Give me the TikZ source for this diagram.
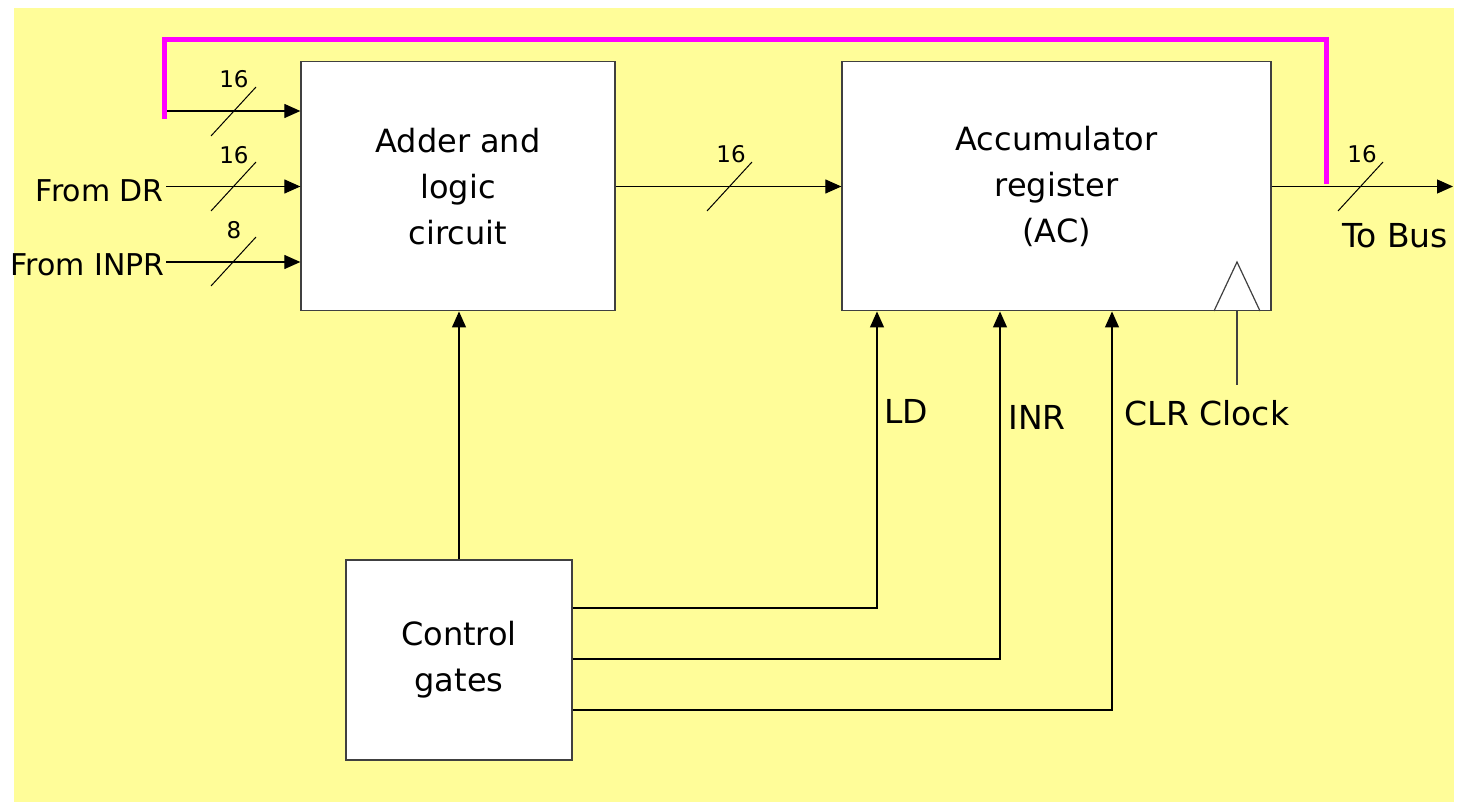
\documentclass[tikz,border=0pt]{standalone}
\usepackage{fontspec}
\setmainfont{DejaVu Sans}
\usetikzlibrary{arrows.meta}
\definecolor{padyellow}{RGB}{255,253,153}
\definecolor{boxedge}{RGB}{64,64,64}
\definecolor{busline}{RGB}{255,0,255}
\tikzset{
  blockbox/.style={draw=boxedge, line width=1.3pt, fill=white, inner sep=0pt,
    align=center, font=\fontsize{32}{46}\selectfont},
  wire/.style={draw=black, line width=1.2pt},
  wirearrow/.style={wire, -{Triangle[length=16pt,width=14pt]}},
  widthmark/.style={draw=black, line width=1pt},
  widthlabel/.style={font=\fontsize{23}{26}\selectfont, inner sep=0pt},
  siglabel/.style={font=\fontsize{33}{36}\selectfont, inner sep=0pt},
  srclabel/.style={font=\fontsize{30}{34}\selectfont, inner sep=0pt},
  feedback/.style={draw=busline, line width=5pt, line join=miter}
}
\begin{document}
\begin{tikzpicture}[x=1pt,y=-1pt]
\useasboundingbox (0,0) rectangle (1460,802);
\fill[padyellow] (14,8) rectangle (1454,802);

% functional blocks
\node[blockbox, minimum width=314pt, minimum height=249pt] (adder) at (458,186.3)
  {Adder and\\logic\\circuit};
\node[blockbox, minimum width=429pt, minimum height=249pt] (ac) at (1056.5,186.3)
  {Accumulator\\register\\(AC)};
\node[blockbox, minimum width=226pt, minimum height=200pt] (ctl) at (459,660)
  {Control\\gates};

% clock edge marker of the register
\coordinate (clkL) at (1214,311);
\coordinate (clkR) at (1260,311);
\coordinate (clkT) at (1237,262);
\draw[boxedge, line width=1.2pt] (clkL) -- (clkT) -- (clkR);

% inputs to the adder
\coordinate (in1) at (166,111);
\coordinate (in2) at (166,186.5);
\coordinate (in3) at (166,262);
\draw[wirearrow] (in1) -- (in1 -| adder.west);
\draw[wirearrow] (in2) -- (in2 -| adder.west);
\draw[wirearrow] (in3) -- (in3 -| adder.west);
\node[srclabel, anchor=east] (fromdr) at (164,191) {From DR};
\node[srclabel, anchor=east] (frominpr) at (165,265) {From INPR};

% adder to accumulator, accumulator to bus
\draw[wirearrow] (adder.east |- in2) -- (ac.west |- in2);
\coordinate (busend) at (1453,186.5);
\draw[wirearrow] (ac.east |- busend) -- (busend);
\node[siglabel] (tobus) at (1395,236) {To Bus};

% feedback path from the register output back to the adder
\coordinate (fbStart) at (164.5,119);
\coordinate (fbTop) at (1326,40);
\coordinate (fbEnd) at (1326,184);
\draw[feedback] (fbStart) -- (fbStart |- fbTop) -- (fbTop) -- (fbEnd);

% bus width marks
\draw[widthmark] (211,136) -- ++(45,-49);
\draw[widthmark] (211,211) -- ++(45,-49);
\draw[widthmark] (211,286) -- ++(45,-49);
\draw[widthmark] (707,211) -- ++(45,-49);
\draw[widthmark] (1338,211) -- ++(45,-49);
\node[widthlabel] (w1) at (234,79) {16};
\node[widthlabel] (w2) at (234,155) {16};
\node[widthlabel] (w3) at (234,230) {8};
\node[widthlabel] (w4) at (731,154) {16};
\node[widthlabel] (w5) at (1362,154) {16};

% control signals
\draw[wirearrow] (ctl.north) -- (ctl.north |- adder.south);
\coordinate (ldT) at (877,608);
\coordinate (inrT) at (1000,659);
\coordinate (clrT) at (1112,710);
\draw[wirearrow] (ldT -| ctl.east) -- (ldT) -- (ldT |- ac.south);
\draw[wirearrow] (inrT -| ctl.east) -- (inrT) -- (inrT |- ac.south);
\draw[wirearrow] (clrT -| ctl.east) -- (clrT) -- (clrT |- ac.south);

% clock input
\coordinate (clkIn) at (1237,385);
\draw[boxedge, line width=1.2pt] (clkIn) -- (clkIn |- ac.south);

\node[siglabel] (ld) at (906,411) {LD};
\node[siglabel] (inr) at (1037,417) {INR};
\node[siglabel] (clr) at (1207,413) {CLR Clock};
\end{tikzpicture}
\end{document}
